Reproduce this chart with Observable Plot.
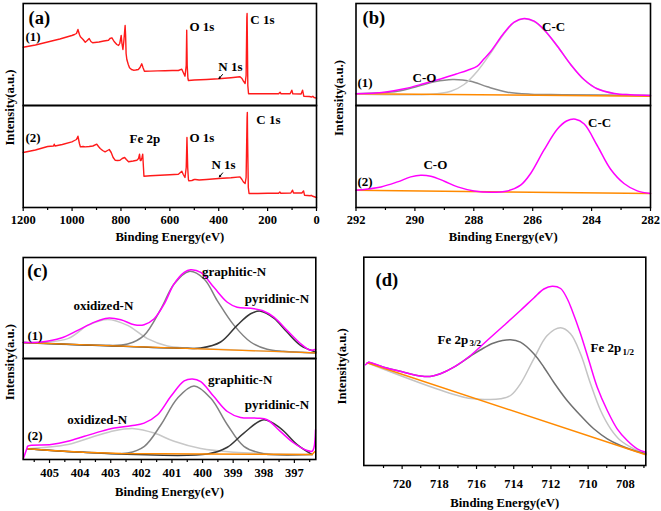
<!DOCTYPE html>
<html><head><meta charset="utf-8">
<script src="https://cdn.jsdelivr.net/npm/d3@7"></script>
<script src="https://cdn.jsdelivr.net/npm/@observablehq/plot@0.6"></script>
<style>
html,body{margin:0;padding:0;background:#fff;}
#root{position:relative;width:661px;height:511px;overflow:hidden;background:#fff;}
.panel{position:absolute;}
.panel svg{overflow:visible;font-family:'Liberation Serif','Times New Roman',serif !important;font-weight:bold;}
.panel svg text{font-family:'Liberation Serif','Times New Roman',serif !important;font-weight:bold;}
</style></head><body><div id="root"></div>
<script>
// ---------- (a) survey spectra: [binding energy eV, intensity a.u.] ----------
const surveyA1 = [[1200,58.3],[1150,60.5],[1100,63.5],[1050,66.5],[1001,70],[990,71],[982,72],[976,76],[970,71],[966,68.7],[955,66],[946,63.3],[938,65],[930,67],[923,64],[916,62.7],[890,63.5],[870,64.5],[851,65.3],[845,67],[837,67.7],[828,64],[817,61],[810,60],[805,62],[799,70],[796,62],[792,56],[788,65],[783,80],[781,70],[779,52],[776,46],[770,41],[765,37.7],[757,36],[749,35.3],[740,35.5],[729,36],[722,38],[715,41.7],[710,38],[704,34.3],[680,34.4],[650,34.6],[620,34.8],[590,35],[565,35],[551,36.3],[545,33],[538,29.3],[533,40],[531,75.3],[529,40],[526,27],[524,25],[500,25.5],[450,26],[401,26.7],[350,27.8],[313,28.7],[305,27],[299,24.3],[292,22],[288,30],[285,88],[284,92],[283,70],[281,20],[278,11.7],[250,11.7],[200,11.7],[155,11.7],[149,13.3],[145,11.7],[108,11.7],[101,15.3],[97,11.7],[63,11.5],[57,15.3],[52,9.3],[30,9],[19,8.5],[15,9.3],[10,8],[0,7.3]];
const surveyA2 = [[1200,55],[1150,57.5],[1100,61],[1076,61.5],[1073,63.3],[1070,61.5],[1040,63],[1001,65.6],[990,67],[982,68],[976,71.3],[970,64],[966,60.6],[955,61],[946,60.6],[930,61],[915,61.5],[899,63.3],[892,61],[885,59],[875,57],[865,55.6],[855,57],[848,58],[840,55],[832,50],[824,47.3],[814,47],[804,47.3],[795,49],[785,50],[778,48],[769,45.7],[750,46.5],[735,47.3],[728,49],[724,53.3],[721,47],[718,47],[714,50],[711,53.3],[708,40],[706,31.3],[680,31.8],[640,32.3],[600,32.8],[565,33.3],[551,36.3],[545,33],[538,30],[533,40],[530,70],[527,40],[524,28],[522,26.6],[510,27],[500,28],[495,28],[480,27.5],[450,28],[401,29],[350,29.8],[313,30.6],[305,28],[299,25.5],[292,24],[288,30],[284,90],[283,95],[282,70],[279,20],[276,14],[240,14],[200,14.2],[155,14.3],[150,15.5],[146,14.3],[105,14.5],[98,17.3],[94,14.5],[60,14.5],[53,16.6],[49,12.3],[25,11.7],[22,12.3],[18,11.5],[0,10]];
const ticksA = [1200,1000,800,600,400,200,0];
const minorA = [1100,900,700,500,300,100];
const labelsA = [
  {s:"1", be:1190.6, v:69, t:"(1)"}, {s:"1", be:520, v:79, t:"O 1s"},
  {s:"1", be:270.6, v:86, t:"C 1s"}, {s:"1", be:401.5, v:39, t:"N 1s"},
  {s:"2", be:1190.6, v:69.3, t:"(2)"}, {s:"2", be:765, v:68.3, t:"Fe 2p"},
  {s:"2", be:520, v:69.3, t:"O 1s"}, {s:"2", be:430, v:42.3, t:"N 1s"},
  {s:"2", be:246, v:87.3, t:"C 1s"}];
const arrowsA = [{s:"1", x1:384.5, y1:31, x2:398.8, y2:27}, {s:"2", x1:384, y1:34.6, x2:397.5, y2:30.6}];

// ---------- (b) C 1s ----------
const envB1 = [[292,11.7],[291.04,13.3],[290.36,16.7],[289.68,22],[289.0,27.7],[288.6,31.5],[288.21,35.3],[287.88,39.3],[287.65,46.7],[287.42,54.3],[286.97,72.7],[286.63,83.3],[286.29,87],[285.95,84.3],[285.62,76],[285.16,59.3],[284.71,41],[284.26,26],[283.81,16.7],[283.24,12],[282.68,10.7],[282,10]];
const ccB1 = [[292,11.6],[289.46,11.2],[288.78,14.3],[288.33,21],[287.88,34.3],[287.42,52.7],[286.97,72],[286.63,83],[286.32,86.8],[285.95,84],[285.62,75.8],[285.16,59.2],[284.71,41],[284.26,26],[283.81,16.7],[283.24,12],[282.68,10.7],[282,10]];
const coB1 = [[292,11.7],[290.59,14.3],[289.9,19.3],[289.34,23.7],[288.72,26],[288.1,24.3],[287.54,18.7],[286.86,13.3],[286.07,11.3],[285,10.8],[282,10]];
const baseB1 = [[292,11.7],[282,9.3]];
const envB2 = [[292,17.3],[291.15,20.6],[290.59,25.6],[290.14,30.6],[289.8,32.3],[289.46,31.3],[289.0,26.3],[288.55,20.6],[287.99,16.6],[287.42,15.3],[286.86,16.6],[286.41,22.3],[286.07,34],[285.62,57.3],[285.16,78.5],[284.85,86.5],[284.55,88.3],[284.25,83.5],[283.81,62],[283.36,38.5],[282.9,24],[282.45,16.6],[282,14]];
const baseB2 = [[292,17.3],[282,14]];
const ticksB = [292,290,288,286,284,282];
const minorB = [291,289,287,285,283];
const labelsB = [
  {s:"1", be:285.68, v:79, t:"C-C"}, {s:"1", be:290.08, v:28, t:"C-O"}, {s:"1", be:291.95, v:23, t:"(1)"},
  {s:"2", be:284.12, v:84.3, t:"C-C"}, {s:"2", be:289.71, v:42.8, t:"C-O"}, {s:"2", be:291.95, v:25.3, t:"(2)"}];

// ---------- (c) N 1s ----------
const envC1 = [[405.86,16],[405.27,16.6],[404.62,20.6],[404.08,28.3],[403.53,36.6],[403.1,40.6],[402.67,39],[402.23,34],[401.91,34],[401.58,40],[401.25,55],[400.93,75],[400.6,86.6],[400.39,89.3],[400.06,86.6],[399.63,71.6],[399.19,56.6],[398.87,51.6],[398.43,50.6],[398.05,48.3],[397.67,41.6],[397.24,28.3],[396.8,15],[396.48,8.3],[396.3,9.3]];
const oxC1 = [[405.86,16],[404.4,20],[403.75,33.3],[403.1,39.3],[402.45,33.3],[401.8,20],[401.15,12.6],[400.5,10.6],[399.5,9.3],[396.3,5.6]];
const grC1 = [[405.86,16],[403.3,13.3],[402.45,14.5],[401.91,23.3],[401.36,50],[400.93,75],[400.44,87.6],[399.95,80],[399.52,58.3],[398.97,33.3],[398.43,16.6],[397.89,9.3],[397.35,7.2],[396.3,5.6]];
const pyC1 = [[405.86,16],[400.5,10.2],[400.06,10.5],[399.41,16.6],[398.87,33.3],[398.43,45],[398.1,47.6],[397.67,40.6],[397.24,26.6],[396.8,13.3],[396.3,6.6]];
const baseC1 = [[405.86,16],[396.3,5.6]];
const envC2 = [[405.86,0.5],[405.74,11],[405.71,13.5],[404.95,15],[404.4,18.3],[403.86,23.3],[403.32,28.3],[402.88,31.6],[402.34,34],[401.91,36.6],[401.47,45],[401.04,63.3],[400.6,79],[400.33,81],[400.06,78.3],[399.63,63.3],[399.19,48.3],[398.76,42.3],[398.21,41.6],[397.89,40],[397.46,28.3],[397.02,16.6],[396.58,9],[396.42,8.3],[396.36,12],[396.31,30]];
const oxC2 = [[405.71,10.7],[404.4,15],[403.53,23.3],[402.88,29],[402.23,31],[401.58,26.6],[400.93,18.3],[400.06,11],[398.97,7.3],[397.5,5.5],[396.42,5]];
const grC2 = [[405.71,10.7],[403.9,7.2],[402.45,6.6],[401.9,13.3],[401.36,35],[400.82,61.6],[400.28,74],[399.73,61.6],[399.19,35],[398.65,13.3],[398,5.8],[396.42,5]];
const pyC2 = [[405.71,10.7],[403.9,7.2],[399.84,5.5],[399.19,12.3],[398.65,26.6],[398,40],[397.46,31.6],[396.91,15],[396.42,5]];
const baseC2 = [[405.71,10.7],[404.95,9],[403.9,7.2],[402.67,6],[400,5.5],[396.42,5],[396.33,8]];
const ticksC = [405,404,403,402,401,400,399,398,397];
const minorC = [405.5,404.5,403.5,402.5,401.5,400.5,399.5,398.5,397.5,396.5];
const labelsC = [
  {s:"1", be:404.22, v:52.8, t:"oxidized-N"}, {s:"1", be:400.02, v:87.3, t:"graphitic-N"},
  {s:"1", be:398.62, v:60.3, t:"pyridinic-N"}, {s:"1", be:405.72, v:22.8, t:"(1)"},
  {s:"2", be:399.82, v:80.5, t:"graphitic-N"}, {s:"2", be:398.62, v:55, t:"pyridinic-N"},
  {s:"2", be:404.42, v:40, t:"oxidized-N"}, {s:"2", be:405.72, v:23.5, t:"(2)"}];

// ---------- (d) Fe 2p ----------
const envD = [[721.97,100.7],[721.92,101.5],[721.8,103.3],[720.99,98.3],[719.91,93.3],[719.01,89.5],[718.5,89],[717.94,91.7],[717.22,98.3],[716.32,110],[715.43,125],[714.53,140],[713.64,155],[712.92,167.5],[712.38,176.5],[711.93,179.3],[711.48,177],[711.13,167],[710.86,155],[710.41,131.7],[709.96,105],[709.51,78.3],[708.97,55],[708.44,36.7],[707.9,25],[707.36,16.7],[706.9,13.3]];
const fe32D = [[721.8,103.3],[720.99,98.3],[719.91,93.3],[719.01,89.5],[718.5,89],[717.94,91.7],[717.22,98.3],[716.32,109.5],[715.8,115.5],[715.07,122.5],[714.17,125.7],[713.64,123.3],[712.92,111.7],[712.38,98.3],[711.85,83.3],[711.13,65],[710.41,50],[709.7,36.7],[708.97,26.7],[708.26,20],[707.54,15],[706.9,11.7]];
const fe12D = [[721.88,102.7],[716.68,68.3],[715.43,66],[714.71,66.7],[714.17,70],[713.64,81.7],[712.92,106.7],[712.2,130],[711.48,137.7],[710.95,131.7],[710.41,111.7],[709.87,81.7],[709.33,55],[708.79,36.7],[708.26,25],[707.54,16.7],[706.9,11.7]];
const baseD = [[721.88,102.7],[706.9,10.7]];
const ticksD = [720,718,716,714,712,710,708];
const minorD = [721,719,717,715,713,711,709,707];
const labelsD = [{be:718.1, v:126, t:"Fe 2p"}, {be:709.87, v:117.5, t:"Fe 2p"}];
const subsD = [{be:716.38, v:122, t:"3/2"}, {be:708.15, v:113, t:"1/2"}];

// ---------- helpers ----------
const FONT = "'Liberation Serif','Times New Roman',serif";
const rows = (pts, s) => pts.map(([be, v]) => ({be, v, s}));
const ORANGE = "#ff8a00", MAGENTA = "#ff00ff", RED = "#ff1a1a";

function build(cfg) {
  const fac = cfg.faceted;
  const fyOpt = fac ? {fy: "s"} : {};
  const marks = [];
  for (const ser of cfg.series) {
    marks.push(Plot.line(ser.rows, {x: "be", y: "v", ...fyOpt, stroke: ser.stroke, strokeWidth: ser.w || 1.5, curve: ser.curve || "catmull-rom"}));
  }
  marks.push(Plot.frame({stroke: "black", strokeWidth: 1.6}));
  marks.push(Plot.axisX(cfg.major, {tickSize: 4, tickPadding: cfg.tickPad, tickFormat: "d", label: null, fontSize: 12.5, strokeWidth: 1.2}));
  marks.push(Plot.axisX(cfg.minor, {tickSize: 3, tickFormat: () => "", label: null, strokeWidth: 1.2}));
  marks.push(Plot.text(cfg.labels, {x: "be", y: "v", ...fyOpt, text: "t", textAnchor: "start", lineAnchor: "middle", fontSize: 13}));
  if (cfg.subs) marks.push(Plot.text(cfg.subs, {x: "be", y: "v", text: "t", textAnchor: "start", lineAnchor: "middle", fontSize: 9}));
  if (cfg.arrows) marks.push(Plot.arrow(cfg.arrows, {x1: "x1", y1: "y1", x2: "x2", y2: "y2", fy: "s", stroke: "black", strokeWidth: 1, headLength: 3, headAngle: 50}));
  const top = fac ? [{s: "1", t: cfg.letter}] : [{t: cfg.letter}];
  const bot = fac ? [{s: "2", t: "Binding Energy(eV)"}] : [{t: "Binding Energy(eV)"}];
  const mid = fac ? [{s: "1", t: "Intensity(a.u.)"}] : [{t: "Intensity(a.u.)"}];
  marks.push(Plot.text(top, {...fyOpt, text: "t", frameAnchor: "top-left", textAnchor: "start", lineAnchor: "middle", dx: cfg.letterDx, dy: cfg.letterDy, fontSize: 18.5}));
  marks.push(Plot.text(bot, {...fyOpt, text: "t", frameAnchor: "bottom", lineAnchor: "middle", dy: cfg.titleDy, fontSize: 12.7}));
  marks.push(Plot.text(mid, {...fyOpt, text: "t", frameAnchor: fac ? "bottom-left" : "left", rotate: -90, textAnchor: "middle", lineAnchor: "middle", dx: cfg.yDx, dy: cfg.yDy, fontSize: 12.7}));
  const opts = {
    width: cfg.width, height: cfg.height,
    marginLeft: cfg.m[3], marginRight: cfg.m[1], marginTop: cfg.m[0], marginBottom: cfg.m[2],
    x: {domain: cfg.xDomain},
    y: {domain: cfg.yDomain, axis: null},
    style: {fontFamily: FONT, fontWeight: "bold", fontSize: "12.5px", color: "black", background: "transparent", overflow: "visible"},
    marks
  };
  if (fac) opts.fy = {domain: ["1", "2"], padding: 0, axis: null};
  const svg = Plot.plot(opts);
  const div = document.createElement("div");
  div.className = "panel";
  div.style.left = cfg.left + "px"; div.style.top = cfg.top + "px";
  div.appendChild(svg);
  document.getElementById("root").appendChild(div);
}

// (a)
build({
  faceted: true, letter: "(a)", left: 0, top: 0, width: 330, height: 245, m: [3.3, 14, 37.7, 22.7],
  xDomain: [1200, 0], yDomain: [0, 102], major: ticksA, minor: minorA, tickPad: 4,
  series: [
    {rows: rows(surveyA1, "1"), stroke: RED, curve: "linear", w: 1.4},
    {rows: rows(surveyA2, "2"), stroke: RED, curve: "linear", w: 1.4}],
  labels: labelsA, arrows: arrowsA,
  letterDx: 5.3, letterDy: 14.2, titleDy: 29.7, yDx: -13.7, yDy: 2
});

// (b)
build({
  faceted: true, letter: "(b)", left: 330, top: 0, width: 331, height: 245, m: [3.3, 11, 37.7, 25.5],
  xDomain: [292, 282], yDomain: [0, 102], major: ticksB, minor: minorB, tickPad: 4,
  series: [
    {rows: rows(coB1, "1"), stroke: "#8a8a8a"},
    {rows: rows(ccB1, "1"), stroke: "#c8c8c8"},
    {rows: rows(baseB1, "1"), stroke: ORANGE, curve: "linear"},
    {rows: rows(envB1, "1"), stroke: MAGENTA},
    {rows: rows(baseB2, "2"), stroke: ORANGE, curve: "linear"},
    {rows: rows(envB2, "2"), stroke: MAGENTA}],
  labels: labelsB,
  letterDx: 6.5, letterDy: 14.2, titleDy: 29.7, yDx: -17.5, yDy: -7.5
});

// (c)
build({
  faceted: true, letter: "(c)", left: 0, top: 245, width: 330, height: 266, m: [11.7, 14.7, 51, 22.7],
  xDomain: [405.86, 396.3], yDomain: [0, 101.6], major: ticksC, minor: minorC, tickPad: 5,
  series: [
    {rows: rows(oxC1, "1"), stroke: "#c8c8c8"},
    {rows: rows(grC1, "1"), stroke: "#808080"},
    {rows: rows(pyC1, "1"), stroke: "#383838"},
    {rows: rows(baseC1, "1"), stroke: ORANGE, curve: "linear", w: 1.2},
    {rows: rows(envC1, "1"), stroke: MAGENTA},
    {rows: rows(oxC2, "2"), stroke: "#c8c8c8"},
    {rows: rows(grC2, "2"), stroke: "#808080"},
    {rows: rows(pyC2, "2"), stroke: "#383838"},
    {rows: rows(baseC2, "2"), stroke: ORANGE, curve: "linear", w: 1.5},
    {rows: rows(envC2, "2"), stroke: MAGENTA}],
  labels: labelsC,
  letterDx: 4, letterDy: 13.8, titleDy: 32, yDx: -13.7, yDy: 3.7
});

// (d)
build({
  faceted: false, letter: "(d)", left: 330, top: 245, width: 331, height: 266, m: [11.7, 15.7, 46, 33.3],
  xDomain: [722.06, 706.9], yDomain: [0, 208.3], major: ticksD, minor: minorD, tickPad: 10,
  series: [
    {rows: rows(fe12D), stroke: "#c4c4c4"},
    {rows: rows(fe32D), stroke: "#707070"},
    {rows: rows(baseD), stroke: ORANGE, curve: "linear"},
    {rows: rows(envD), stroke: MAGENTA}],
  labels: labelsD, subs: subsD,
  letterDx: 11.7, letterDy: 22.8, titleDy: 37.5, yDx: -22, yDy: 5
});
</script></body></html>
